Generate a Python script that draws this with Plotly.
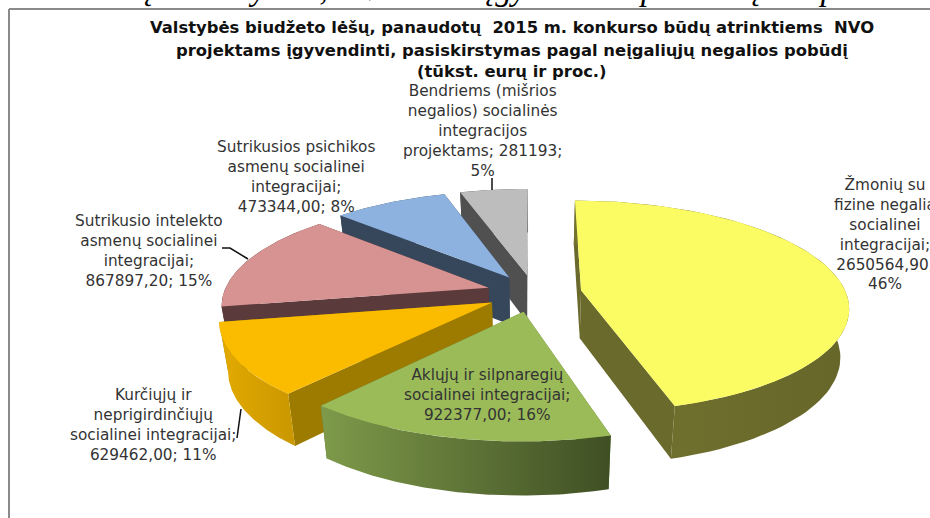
import numpy as np
import plotly.graph_objects as go

# ---- data ----
categories = [
    "Žmonių su<br>fizine negalia<br>socialinei<br>integracijai;",
    "Aklųjų ir silpnaregių<br>socialinei integracijai;",
    "Kurčiųjų ir<br>neprigirdinčiųjų<br>socialinei integracijai;",
    "Sutrikusio intelekto<br>asmenų socialinei<br>integracijai;",
    "Sutrikusios psichikos<br>asmenų socialinei<br>integracijai;",
    "Bendriems (mišrios<br>negalios) socialinės<br>integracijos",
]
values = [2650564.90, 922377.00, 629462.00, 867897.20, 473344.00, 281193.00]
value_texts = ["<br>2650564,90;<br>46%", "<br>922377,00; 16%", "<br>629462,00; 11%",
               "<br>867897,20; 15%", "<br>473344,00; 8%", "<br>projektams; 281193;<br>5%"]
title_lines = [
    "Valstybės biudžeto lėšų, panaudotų  2015 m. konkurso būdų atrinktiems  NVO",
    "projektams įgyvendinti, pasiskirstymas pagal neįgaliųjų negalios pobūdį",
    "(tūkst. eurų ir proc.)",
]
top_text = "aunkšąsis mokymas, 5 Veiksmai įgyvendinti per viešąsias pirkimus"

# ---- styles / layout ----
top_colors = ["#FBFB63", "#9BBB59", "#FBBC00", "#D79391", "#8DB2DF", "#BDBDBD"]
side_colors = ["#6A6A2C", "#5E7A38", "#9C7B00", "#5A3A3B", "#36475C", "#505050"]
arc_grad = [
    ["#74742F", "#66662A"],
    ["#7E9A4A", "#3F4F24"],
    ["#E3AA00", "#C99700"],
    ["#5A3A3B", "#5A3A3B"],
    ["#36475C", "#36475C"],
    ["#505050", "#505050"],
]
label_pos = [(885, 234), (487, 395), (153, 425), (149, 251), (296, 177), (482, 131)]
draw_order = [5, 4, 3, 2, 0, 1]

XC, YC, RX, RY, PERSP, EXPLODE, DEPTH, SHRINK = 534, 293, 265, 104, 0.15, 0.18, 48, 0.972


def project(theta, mid):
    """Exploded, perspective projection of a pie point (clockwise from the top)."""
    px = EXPLODE * np.sin(mid) + np.sin(theta)
    py = -EXPLODE * np.cos(mid) - np.cos(theta)
    w = 1 - PERSP * py
    return XC + RX * px / w, YC + RY * py / w, w


def apex(mid):
    px = EXPLODE * np.sin(mid)
    py = -EXPLODE * np.cos(mid)
    w = 1 - PERSP * py
    return XC + RX * px / w, YC + RY * py / w, w


def lower(x, y, w):
    return XC + (x - XC) * SHRINK, YC + (y - YC) * SHRINK + DEPTH / w


fig = go.Figure()


def poly(xs, ys, color=None, grad=None):
    kw = dict(fillcolor=color) if grad is None else dict(
        fillgradient=dict(type="horizontal", colorscale=[[0, grad[0]], [1, grad[1]]]))
    fig.add_trace(go.Scatter(x=list(xs), y=list(ys), mode="lines", fill="toself",
                             line=dict(width=0), hoverinfo="skip", showlegend=False, **kw))


total = sum(values)
edges = 2 * np.pi * np.concatenate([[0], np.cumsum(values)]) / total

for i in draw_order:
    a0, a1 = edges[i], edges[i + 1]
    mid = (a0 + a1) / 2
    th = np.linspace(a0, a1, 80)
    x, y, w = project(th, mid)
    ax_, ay_, aw = apex(mid)
    xb, yb = lower(x, y, w)
    axb, ayb = lower(ax_, ay_, aw)
    # cut faces
    poly([ax_, x[0], xb[0], axb], [ay_, y[0], yb[0], ayb], side_colors[i])
    poly([ax_, x[-1], xb[-1], axb], [ay_, y[-1], yb[-1], ayb], side_colors[i])
    # rim
    poly(np.concatenate([x, xb[::-1]]), np.concatenate([y, yb[::-1]]), grad=arc_grad[i])
    # top
    poly(np.concatenate([[ax_], x]), np.concatenate([[ay_], y]), top_colors[i])

annotations = []
for (cx, cy), cat, vt in zip(label_pos, categories, value_texts):
    annotations.append(dict(x=cx, y=cy, xref="x", yref="y", text=cat + vt, showarrow=False,
                            align="center", xanchor="center", yanchor="middle",
                            font=dict(family="DejaVu Sans", size=15.3, color="#333333")))
for line, ty in zip(title_lines, [27, 50, 71]):
    annotations.append(dict(x=512, y=ty, xref="x", yref="y", text="<b>" + line + "</b>", showarrow=False,
                            xanchor="center", yanchor="middle",
                            font=dict(family="DejaVu Sans", size=16.4, color="#111111")))
annotations.append(dict(x=58, y=1.022, xref="x", yref="paper", text="<i>" + top_text + "</i>", showarrow=False,
                        xanchor="left", yanchor="middle",
                        font=dict(family="Liberation Serif", size=33, color="#000000")))
annotations.append(dict(x=15, y=1.022, xref="x", yref="paper", text="5", showarrow=False,
                        xanchor="center", yanchor="middle",
                        font=dict(family="Liberation Serif", size=33, color="#000000")))

shapes = [
    dict(type="line", xref="x", yref="y", x0=9, x1=9, y0=9, y1=518, line=dict(color="#8A8A8A", width=2)),
    dict(type="line", xref="x", yref="y", x0=9, x1=930, y0=9, y1=9, line=dict(color="#8A8A8A", width=2)),
    dict(type="path", xref="x", yref="y", path="M222,248 L230,248 L248,259", line=dict(color="#111111", width=1.5)),
    dict(type="line", xref="x", yref="y", x0=241, x1=237, y0=409, y1=438, line=dict(color="#111111", width=1.5)),
    dict(type="line", xref="x", yref="y", x0=492, x1=492, y0=178, y1=190, line=dict(color="#111111", width=1.5)),
]

fig.update_layout(
    width=930, height=518, margin=dict(l=0, r=0, t=0, b=0),
    paper_bgcolor="white", plot_bgcolor="white", showlegend=False,
    xaxis=dict(range=[0, 930], visible=False, fixedrange=True),
    yaxis=dict(range=[518, 0], visible=False, fixedrange=True),
    annotations=annotations, shapes=shapes,
)
fig.write_html("out.html", config={"displayModeBar": False},
               post_script="document.body.style.margin='0';document.body.style.overflow='hidden';")
